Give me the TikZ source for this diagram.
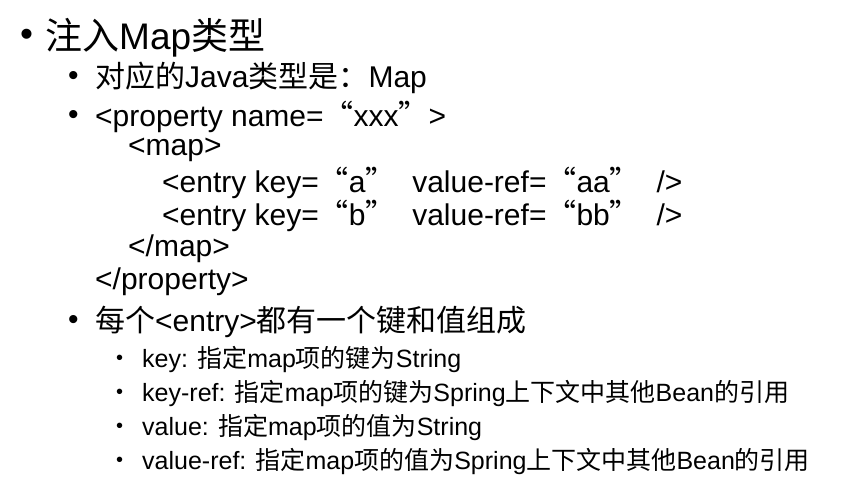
\documentclass[tikz,border=0pt]{standalone}
\usepackage{fontspec}
\setmainfont{Liberation Sans}
\newfontfamily\cjk{Noto Sans CJK SC}
\newcommand{\zh}[1]{{\cjk #1}}
\begin{document}
\begin{tikzpicture}[x=1pt,y=-1pt,
  t/.style={anchor=west,inner sep=0pt},
  la/.style={t,font=\fontsize{37}{40}\selectfont},
  lb/.style={t,font=\fontsize{30}{34}\selectfont},
  lc/.style={t,font=\fontsize{25}{28}\selectfont}]
\fill[white] (0,0) rectangle (849,500);
\useasboundingbox (0,0) rectangle (849,500);
\node[la] (b1) at (20,38) {•};
\node[la] (a1) at (45,38) {\zh{注入}Map\zh{类型}};
\node[lb] (b2) at (68,78) {•};
\node[lb] (a2) at (95,78) {\zh{对应的}Java\zh{类型是：}Map};
\node[lb] (b3) at (68,117) {•};
\node[lb] (a3) at (95,117) {<property name=\zh{“}xxx\zh{”}>};
\node[lb] (a4) at (128,150) {<map>};
\node[lb] (a5) at (162,183) {<entry key=\zh{“}a\zh{”}\ \ value-ref=\zh{“}aa\zh{”}\ \ />};
\node[lb] (a6) at (162,216) {<entry key=\zh{“}b\zh{”}\ \ value-ref=\zh{“}bb\zh{”}\ \ />};
\node[lb] (a7) at (128,249) {</map>};
\node[lb] (a8) at (95,282) {</property>};
\node[lb] (b9) at (68,322) {•};
\node[lb] (a9) at (95,322) {\zh{每个}<entry>\zh{都有一个键和值组成}};
\foreach \y/\s [count=\i] in {360/{key: \zh{指定}map\zh{项的键为}String},
  394/{key-ref: \zh{指定}map\zh{项的键为}Spring\zh{上下文中其他}Bean\zh{的引用}},
  428/{value: \zh{指定}map\zh{项的值为}String},
  462/{value-ref: \zh{指定}map\zh{项的值为}Spring\zh{上下文中其他}Bean\zh{的引用}}}{
  \node[lc,font=\fontsize{20}{24}\selectfont] (c\i) at (116,\y) {•};
  \node[lc] (d\i) at (142,\y) {\s};
}
\end{tikzpicture}
\end{document}
